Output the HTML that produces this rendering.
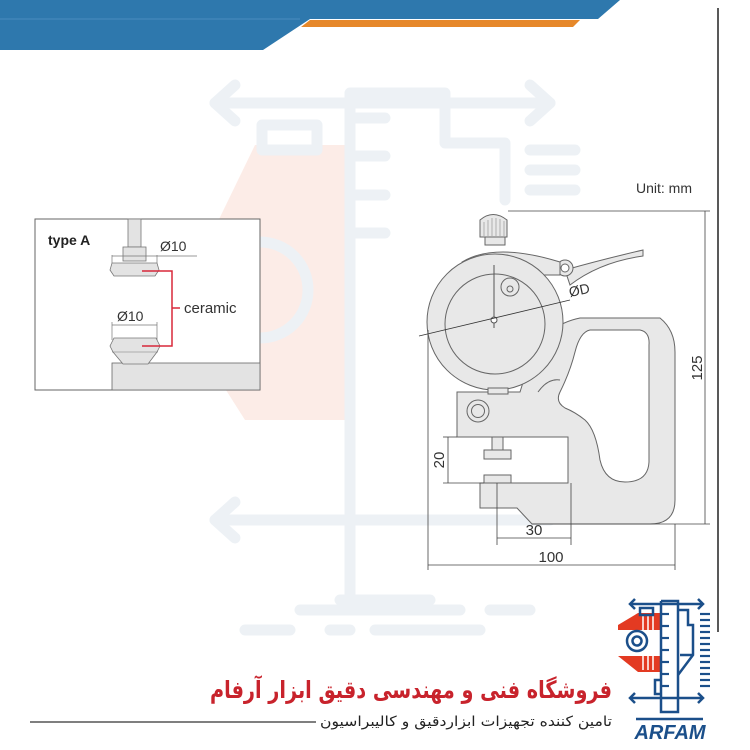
<!DOCTYPE html>
<html><head><meta charset="utf-8"><style>
html,body{margin:0;padding:0;background:#fff;}
svg{display:block;}
text{font-family:"Liberation Sans",Arial,sans-serif;}
</style></head><body>
<svg width="750" height="750" viewBox="0 0 750 750" xmlns="http://www.w3.org/2000/svg">
<rect width="750" height="750" fill="#fff"/>
<polygon points="0,0 620,0 598,19 310,19 263,50 0,50" fill="#2e78ad"/>
<line x1="0" y1="19" x2="300" y2="19" stroke="#4a8cc0" stroke-width="1"/>
<polygon points="310,20 580,20 573,27 301,27" fill="#e6882a"/>
<line x1="718" y1="8" x2="718" y2="632" stroke="#222" stroke-width="1.5"/>

<!-- watermark -->
<g opacity="0.6">
<polygon points="175,310 255,145 350,145 350,420 245,420" fill="#fbe0d8"/>
<g stroke="#e2e9f0" stroke-width="11" fill="none" stroke-linecap="round" stroke-linejoin="round">
<line x1="215" y1="103" x2="550" y2="103"/>
<polyline points="235,85 215,103 235,121"/>
<polyline points="530,85 550,103 530,121"/>
<polyline points="350,95 350,610"/>
<polyline points="350,93 445,93 445,143 505,143 505,200"/>
<line x1="350" y1="118" x2="385" y2="118"/>
<line x1="350" y1="156" x2="385" y2="156"/>
<line x1="350" y1="195" x2="385" y2="195"/>
<line x1="350" y1="233" x2="385" y2="233"/>
<rect x="262" y="125" width="55" height="25"/>
<line x1="530" y1="150" x2="575" y2="150"/>
<line x1="530" y1="170" x2="575" y2="170"/>
<line x1="530" y1="190" x2="575" y2="190"/>
<line x1="215" y1="520" x2="550" y2="520"/>
<polyline points="235,502 215,520 235,538"/>
<line x1="340" y1="600" x2="430" y2="600"/>
<line x1="300" y1="610" x2="460" y2="610"/>
<line x1="245" y1="630" x2="290" y2="630"/>
<line x1="330" y1="630" x2="350" y2="630"/>
<line x1="375" y1="630" x2="480" y2="630"/>
<line x1="490" y1="610" x2="530" y2="610"/>
</g>
<circle cx="260" cy="290" r="48" fill="none" stroke="#e2e9f0" stroke-width="11"/>
</g>

<!-- left detail box -->
<rect x="35" y="219" width="225" height="171" fill="#fff" stroke="#666" stroke-width="1"/>
<rect x="112" y="363" width="148" height="27" fill="#e3e3e3" stroke="#666" stroke-width="0.8"/>
<text x="48" y="245" font-size="14" font-weight="bold" fill="#222">type A</text>
<rect x="128" y="219" width="13" height="28" fill="#e3e3e3" stroke="#777" stroke-width="0.8"/>
<rect x="123" y="247" width="23" height="14" fill="#e3e3e3" stroke="#777" stroke-width="0.8"/>
<path d="M112,263 L157,263 L159,270 L155,276 L114,276 L110,270 Z" fill="#e3e3e3" stroke="#777" stroke-width="0.8"/>
<line x1="112" y1="255" x2="112" y2="263" stroke="#777" stroke-width="0.7"/>
<line x1="157" y1="255" x2="157" y2="263" stroke="#777" stroke-width="0.7"/>
<line x1="112" y1="256" x2="197" y2="256" stroke="#777" stroke-width="0.7"/>
<text x="160" y="251" font-size="14" fill="#333">Ø10</text>
<line x1="112" y1="325" x2="157" y2="325" stroke="#777" stroke-width="0.7"/>
<line x1="112" y1="322" x2="112" y2="340" stroke="#777" stroke-width="0.7"/>
<line x1="157" y1="322" x2="157" y2="340" stroke="#777" stroke-width="0.7"/>
<text x="117" y="321" font-size="14" fill="#333">Ø10</text>
<path d="M114,338 L156,338 L160,346 L157,352 L148,364 L123,364 L113,352 L110,346 Z" fill="#e3e3e3" stroke="#777" stroke-width="0.8"/>
<line x1="112" y1="352" x2="158" y2="352" stroke="#777" stroke-width="0.6"/>
<polyline points="142,271 172,271 172,346 142,346" fill="none" stroke="#d8283a" stroke-width="1.5"/>
<line x1="172" y1="308" x2="180" y2="308" stroke="#d8283a" stroke-width="1.5"/>
<text x="184" y="313" font-size="15" fill="#333">ceramic</text>

<!-- gauge -->
<g stroke="#666" stroke-width="1" fill="#e8e8e8">
<path d="M457,392 L457,437 L568,437 L568,483 L480,483 L480,508 L517,508 L532,524 L650,524 Q675,524 675,500 L675,352 Q675,330 660,318 L580,318 Q545,325 530,360 L520,392 Z"/>
<path d="M590,330 L640,330 Q650,332 649,345 L649,462 Q648,482 625,482 Q605,482 600,460 Q596,430 585,420 Q575,412 565,408 Q555,402 560,392 Q570,372 575,352 Q580,332 590,330 Z" fill="#fff"/>
<path d="M538,392 Q548,378 560,380" fill="none"/>
<path d="M565,270 Q600,260 643,250 L643,256 Q600,262 570,285 Z"/>
<circle cx="565" cy="268" r="8"/>
<circle cx="565" cy="268" r="4" fill="#fff"/>
<path d="M462,262 Q495,242 560,262 L560,275 L462,275 Z"/>
<rect x="485" y="236" width="20" height="9"/>
<path d="M480,220 Q493,209 507,220 L507,237 L480,237 Z"/>
<circle cx="495" cy="322" r="68"/>
<circle cx="495" cy="324" r="50"/>
<rect x="488" y="388" width="20" height="6"/>
<circle cx="478" cy="411" r="11"/>
<circle cx="478" cy="411" r="6.5"/>
<rect x="492" y="437" width="11" height="13"/>
<rect x="484" y="450" width="27" height="9"/>
<rect x="484" y="475" width="27" height="8"/>
</g>
<g stroke="#888" stroke-width="0.6">
<line x1="484" y1="222" x2="484" y2="236"/><line x1="488" y1="220" x2="488" y2="236"/>
<line x1="492" y1="218" x2="492" y2="236"/><line x1="496" y1="218" x2="496" y2="236"/>
<line x1="500" y1="219" x2="500" y2="236"/><line x1="504" y1="221" x2="504" y2="236"/>
</g>
<circle cx="510" cy="287" r="9" fill="none" stroke="#666"/>
<circle cx="510" cy="289" r="3" fill="none" stroke="#666"/>
<line x1="494" y1="265" x2="494" y2="328" stroke="#555" stroke-width="1"/>
<circle cx="494" cy="320" r="3" fill="#fff" stroke="#555"/>
<line x1="419" y1="336" x2="570" y2="300" stroke="#333" stroke-width="0.8"/>
<text x="570" y="297" font-size="14" fill="#333" transform="rotate(-12 570 297)">ØD</text>

<g stroke="#444" stroke-width="0.8" fill="none">
<line x1="508" y1="211" x2="710" y2="211"/>
<line x1="705" y1="211" x2="705" y2="524"/>
<line x1="532" y1="524" x2="710" y2="524"/>
<line x1="428" y1="330" x2="428" y2="570"/>
<line x1="675" y1="524" x2="675" y2="570"/>
<line x1="428" y1="565" x2="675" y2="565"/>
<line x1="497" y1="483" x2="497" y2="545"/>
<line x1="571" y1="483" x2="571" y2="545"/>
<line x1="497" y1="538" x2="571" y2="538"/>
<line x1="443" y1="437" x2="457" y2="437"/>
<line x1="443" y1="483" x2="484" y2="483"/>
<line x1="448" y1="437" x2="448" y2="483"/>
</g>
<text x="636" y="193" font-size="14" fill="#333">Unit: mm</text>
<text x="702" y="368" font-size="15" fill="#333" text-anchor="middle" transform="rotate(-90 702 368)">125</text>
<text x="551" y="562" font-size="15" fill="#333" text-anchor="middle">100</text>
<text x="534" y="535" font-size="15" fill="#333" text-anchor="middle">30</text>
<text x="444" y="460" font-size="15" fill="#333" text-anchor="middle" transform="rotate(-90 444 460)">20</text>

<!-- footer -->
<text x="612" y="698" font-size="24" font-weight="bold" fill="#c8232c" text-anchor="end" textLength="402" lengthAdjust="spacingAndGlyphs" style="font-family:'DejaVu Sans',sans-serif">فروشگاه فنی و مهندسی دقیق ابزار آرفام</text>
<text x="612" y="726" font-size="14" fill="#222" text-anchor="end" textLength="292" lengthAdjust="spacingAndGlyphs" style="font-family:'DejaVu Sans',sans-serif">تامین کننده تجهیزات ابزاردقیق و کالیبراسیون</text>
<line x1="30" y1="722" x2="316" y2="722" stroke="#555" stroke-width="1.5"/>
<!-- logo -->
<polygon points="618,625 638,613 660,613 660,630 618,630" fill="#e33a22"/>
<polygon points="618,656 660,656 660,672 638,672" fill="#e33a22"/>
<g stroke="#fff" stroke-width="1.5">
<line x1="643" y1="616" x2="643" y2="630"/><line x1="648" y1="616" x2="648" y2="630"/><line x1="653" y1="616" x2="653" y2="630"/>
<line x1="643" y1="656" x2="643" y2="670"/><line x1="648" y1="656" x2="648" y2="670"/><line x1="653" y1="656" x2="653" y2="670"/>
</g>
<g stroke="#1b4f8a" stroke-width="2.5" fill="none">
<line x1="630" y1="604" x2="703" y2="604"/>
<polyline points="635,599 630,604 635,609"/>
<polyline points="698,599 703,604 698,609"/>
<line x1="630" y1="698" x2="703" y2="698"/>
<polyline points="635,693 630,698 635,703"/>
<polyline points="698,693 703,698 698,703"/>
<polyline points="661,601 661,712 678,712 678,601 661,601"/>
<rect x="640" y="608" width="13" height="7"/>
<circle cx="637" cy="641" r="10"/>
<circle cx="637" cy="641" r="4.5"/>
<polyline points="678,610 688,610 688,625 693,625 693,655 678,675"/>
<line x1="680" y1="655" x2="693" y2="655"/>
<polyline points="661,680 655,680 655,694 661,694"/>
<line x1="636" y1="719" x2="703" y2="719"/>
</g>
<g stroke="#1b4f8a" stroke-width="2.2">
<line x1="700" y1="614" x2="710" y2="614"/><line x1="700" y1="620" x2="710" y2="620"/>
<line x1="700" y1="626" x2="710" y2="626"/><line x1="700" y1="632" x2="710" y2="632"/>
<line x1="700" y1="638" x2="710" y2="638"/><line x1="700" y1="644" x2="710" y2="644"/>
<line x1="700" y1="650" x2="710" y2="650"/><line x1="700" y1="656" x2="710" y2="656"/>
<line x1="700" y1="662" x2="710" y2="662"/><line x1="700" y1="668" x2="710" y2="668"/>
<line x1="700" y1="674" x2="710" y2="674"/><line x1="700" y1="680" x2="710" y2="680"/>
<line x1="700" y1="686" x2="710" y2="686"/>
<line x1="661" y1="614" x2="669" y2="614"/><line x1="661" y1="626" x2="669" y2="626"/>
<line x1="661" y1="638" x2="669" y2="638"/><line x1="661" y1="650" x2="669" y2="650"/>
<line x1="661" y1="662" x2="669" y2="662"/><line x1="661" y1="674" x2="669" y2="674"/>
<line x1="661" y1="686" x2="669" y2="686"/>
</g>
<text x="670" y="739" font-size="20" font-weight="bold" font-style="italic" fill="#1b4f8a" text-anchor="middle">ARFAM</text>
</svg>
</body></html>
